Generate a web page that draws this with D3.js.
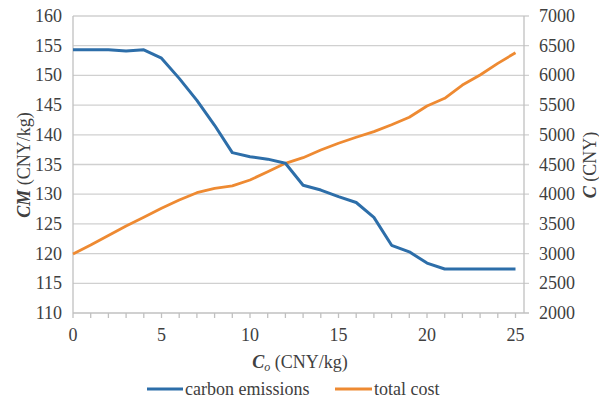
<!DOCTYPE html>
<html><head><meta charset="utf-8">
<script src="https://cdn.jsdelivr.net/npm/d3@7"></script>
</head><body style="margin:0">
<script>
const costRate = [0,1,2,3,4,5,6,7,8,9,10,11,12,13,14,15,16,17,18,19,20,21,22,23,24,25];
const carbonEmissions = [154.3,154.3,154.3,154.1,154.3,152.9,149.5,145.8,141.6,137.0,136.3,135.9,135.2,131.5,130.7,129.6,128.6,126.1,121.4,120.3,118.4,117.4,117.4,117.4,117.4,117.4];
const totalCost = [2995,3145,3305,3465,3610,3763,3902,4025,4099,4140,4239,4379,4520,4615,4744,4857,4958,5053,5170,5295,5485,5614,5838,6007,6203,6382];
const leftTicks = [110,115,120,125,130,135,140,145,150,155,160];
const rightTicks = [2000,2500,3000,3500,4000,4500,5000,5500,6000,6500,7000];
const xTicks = [0,5,10,15,20,25];

const W=599,H=401;
const L=73,R=524,T=16,B=313;
const svg=d3.select("body").append("svg").attr("width",W).attr("height",H);
const x=d3.scaleLinear().domain([0,25]).range([L,L+25*17.7]);
const yL=d3.scaleLinear().domain([110,160]).range([B,T]);
const yR=d3.scaleLinear().domain([2000,7000]).range([B,T]);

const st=(sel)=>sel.style("font-family","'Liberation Serif', serif").style("font-size","18px").style("fill","#404040");

svg.append("g").selectAll("line").data(leftTicks.slice(1)).join("line")
  .attr("x1",L).attr("x2",R+5).attr("y1",d=>yL(d)).attr("y2",d=>yL(d))
  .attr("stroke","#d0d0d0").attr("stroke-width",1.3);
svg.append("line").attr("x1",L).attr("x2",L).attr("y1",T).attr("y2",B).attr("stroke","#c0c0c0").attr("stroke-width",1.3);
svg.append("line").attr("x1",R).attr("x2",R).attr("y1",T).attr("y2",B).attr("stroke","#c0c0c0").attr("stroke-width",1.3);
svg.append("line").attr("x1",L).attr("x2",R+5).attr("y1",B).attr("y2",B).attr("stroke","#c0c0c0").attr("stroke-width",1.3);
svg.append("g").selectAll("line").data(d3.range(0,26)).join("line")
  .attr("x1",d=>x(d)).attr("x2",d=>x(d)).attr("y1",B).attr("y2",B+5)
  .attr("stroke","#c0c0c0").attr("stroke-width",1.3);

// tick labels
st(svg.append("g").selectAll("text").data(leftTicks).join("text")
  .attr("x",62).attr("y",d=>yL(d)+6).attr("text-anchor","end").text(d=>d));
st(svg.append("g").selectAll("text").data(rightTicks).join("text")
  .attr("x",539).attr("y",d=>yR(d)+6).text(d=>d));
st(svg.append("g").selectAll("text").data(xTicks).join("text")
  .attr("x",d=>x(d)).attr("y",341).attr("text-anchor","middle").text(d=>d));

// axis titles
const xt=st(svg.append("text").attr("x",300).attr("y",368).attr("text-anchor","middle"));
xt.append("tspan").style("font-weight","bold").style("font-style","italic").text("C");
xt.append("tspan").style("font-style","italic").style("font-size","12px").attr("dy","3").text("o");
xt.append("tspan").attr("dy","-3").text(" (CNY/kg)");

const lt=st(svg.append("text").attr("transform","translate(30,165) rotate(-90)").attr("text-anchor","middle"));
lt.append("tspan").style("font-weight","bold").style("font-style","italic").text("CM");
lt.append("tspan").text(" (CNY/kg)");

const rt=st(svg.append("text").attr("transform","translate(596,165) rotate(-90)").attr("text-anchor","middle"));
rt.append("tspan").style("font-weight","bold").style("font-style","italic").text("C");
rt.append("tspan").text(" (CNY)");

// lines
const blue="#2D6EA9", orange="#EE8A32";
svg.append("path").datum(costRate.map((c,i)=>[c,totalCost[i]]))
  .attr("d",d3.line().x(d=>x(d[0])).y(d=>yR(d[1])))
  .attr("fill","none").attr("stroke",orange).attr("stroke-width",2.8).attr("stroke-linejoin","round");
svg.append("path").datum(costRate.map((c,i)=>[c,carbonEmissions[i]]))
  .attr("d",d3.line().x(d=>x(d[0])).y(d=>yL(d[1])))
  .attr("fill","none").attr("stroke",blue).attr("stroke-width",3).attr("stroke-linejoin","round");

// legend
const lg=svg.append("g");
lg.append("line").attr("x1",147).attr("x2",183).attr("y1",389).attr("y2",389).attr("stroke",blue).attr("stroke-width",3);
st(lg.append("text").attr("x",185).attr("y",395).text("carbon emissions"));
lg.append("line").attr("x1",335).attr("x2",372).attr("y1",389).attr("y2",389).attr("stroke",orange).attr("stroke-width",3);
st(lg.append("text").attr("x",374).attr("y",395).text("total cost"));
</script>
</body></html>
